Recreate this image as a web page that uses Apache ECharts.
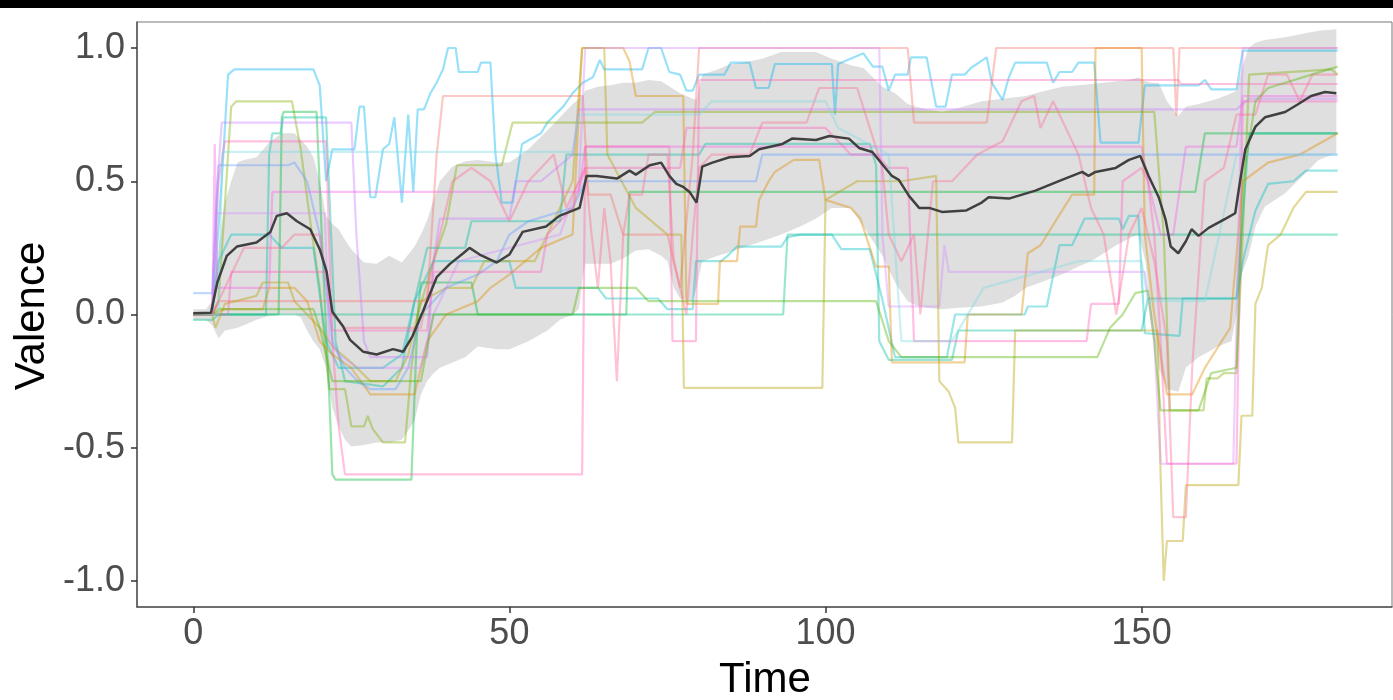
<!DOCTYPE html>
<html>
<head>
<meta charset="UTF-8">
<title>Valence over time</title>
<script src="https://cdn.jsdelivr.net/npm/echarts@6/dist/echarts.min.js"></script>
<style>
  html, body { margin: 0; padding: 0; background: #fff; }
</style>
</head>
<body>
<div id="main" style="width:1393px;height:700px;"></div>
<script>
// axis ticks
var xTicks = [0, 50, 100, 150];
var yTicks = [-1, -0.5, 0, 0.5, 1];

// mean valence (time, value)
var meanLine = [
  [0,0.005],[2.8,0.007],[3.8,0.12],[5.3,0.22],[6.9,0.255],[10,0.27],[12.2,0.31],[13.2,0.37],[14.8,0.38],
  [16.4,0.35],[18.5,0.32],[20,0.245],[21.1,0.16],[22,0.01],[23.7,-0.045],[24.8,-0.095],[26.9,-0.14],
  [29,-0.15],[31.6,-0.13],[33.2,-0.14],[34.7,-0.08],[36.3,0.01],[38.5,0.14],[40.6,0.19],[42.7,0.23],
  [43.7,0.25],[45.3,0.225],[48,0.195],[50,0.225],[52.1,0.31],[55.8,0.33],[57.9,0.37],[61.1,0.40],
  [62.2,0.52],[63.8,0.52],[67,0.51],[69,0.54],[70,0.525],[72.2,0.56],[74,0.57],[75.3,0.52],[76.4,0.49],
  [77.4,0.48],[78.5,0.46],[79.6,0.42],[80.5,0.555],[82.1,0.57],[84.8,0.59],[88,0.595],[89.5,0.62],
  [93.2,0.64],[94.7,0.66],[98.5,0.655],[100.6,0.67],[103.7,0.66],[105.3,0.625],[107.4,0.61],[110.5,0.52],
  [111.6,0.505],[113.2,0.445],[114.8,0.40],[116.4,0.40],[118.4,0.385],[122.2,0.39],[124.7,0.42],
  [125.8,0.44],[129,0.435],[133.2,0.465],[137.4,0.505],[140.6,0.535],[141.6,0.52],[142.7,0.535],
  [145.9,0.55],[148,0.58],[149.8,0.595],[151.1,0.52],[152.7,0.44],[153.8,0.355],[154.6,0.255],
  [155.8,0.23],[157,0.275],[157.9,0.32],[159,0.295],[160.6,0.325],[163.3,0.36],[164.8,0.38],
  [165.6,0.505],[166.4,0.62],[168,0.705],[169.5,0.74],[172.7,0.76],[174.8,0.79],[176.8,0.82],
  [179,0.835],[180.8,0.83]
];

// ribbon around the mean
var bandTime  = [0,2,3,4,5,6,7,8,10,12,14,16,17,18,19,20,21,22,23,24,25,27,29,31,33,35,36,37,38,39,41,43,45,48,50,53,56,58,60,61,61.6,62,64,66,68,70,72,74,75,76,77,78,79,79.6,80.5,83,85,88,90,93,96,98.5,101,104,106,109,111,113,114.3,116,118.4,121,124.7,128,130,131.7,134,137.4,140,142,144,146,148,149.5,150.6,151.5,152.7,154,155.8,157,159,160.6,162,164.2,165,165.8,166.9,168,169.5,172.7,175.9,178,180.8];
var bandUpper = [0.02,0.02,0.05,0.25,0.42,0.5,0.57,0.58,0.59,0.645,0.68,0.68,0.655,0.63,0.59,0.5,0.37,0.34,0.32,0.28,0.245,0.195,0.19,0.22,0.195,0.255,0.3,0.355,0.43,0.5,0.555,0.575,0.58,0.57,0.57,0.62,0.69,0.74,0.79,0.81,0.82,0.84,0.855,0.86,0.87,0.87,0.88,0.875,0.86,0.845,0.83,0.82,0.81,0.805,0.9,0.92,0.94,0.95,0.96,0.985,0.985,0.985,0.96,0.935,0.925,0.855,0.83,0.79,0.78,0.77,0.76,0.775,0.8,0.81,0.815,0.82,0.835,0.855,0.86,0.865,0.87,0.875,0.88,0.89,0.875,0.87,0.87,0.8,0.745,0.78,0.79,0.8,0.81,0.83,0.84,0.92,1.0,1.02,1.03,1.04,1.055,1.065,1.07];
var bandLower = [-0.02,-0.02,-0.04,-0.09,-0.06,-0.055,-0.05,-0.04,-0.02,-0.005,0.0,0.0,-0.01,-0.06,-0.1,-0.13,-0.2,-0.35,-0.42,-0.47,-0.495,-0.49,-0.48,-0.48,-0.47,-0.4,-0.3,-0.25,-0.22,-0.2,-0.18,-0.16,-0.12,-0.13,-0.13,-0.1,-0.06,-0.02,0.0,0.02,0.14,0.19,0.19,0.19,0.21,0.24,0.245,0.22,0.2,0.1,0.06,0.055,0.05,0.1,0.2,0.22,0.235,0.26,0.275,0.3,0.33,0.36,0.4,0.4,0.33,0.22,0.12,0.05,0.035,0.025,0.02,0.025,0.03,0.045,0.07,0.1,0.12,0.15,0.18,0.2,0.23,0.26,0.285,0.3,0.2,0.0,-0.2,-0.28,-0.29,-0.2,-0.16,-0.14,-0.12,-0.1,0.0,0.15,0.22,0.33,0.405,0.455,0.53,0.58,0.605];

// individual participants (time, value)
var p01 = [[0,0],[3,0],[4.5,0.5],[5.5,0.9],[6.5,0.92],[19,0.92],[20,0.86],[21,0.5],[22,0.62],[25.5,0.62],[26.3,0.78],[27,0.78],[28,0.44],[28.8,0.44],[30,0.62],[31,0.64],[31.8,0.74],[33,0.42],[34,0.75],[34.8,0.46],[35.5,0.77],[36.5,0.77],[37.5,0.83],[38.5,0.87],[39.5,0.92],[40.3,1.0],[41.5,1.0],[42,0.91],[45,0.91],[45.5,0.945],[47,0.945],[47.8,0.6],[48.8,0.42],[50.5,0.42],[52,0.64],[55,0.68],[56,0.72],[58.5,0.78],[60,0.83],[61.6,0.87],[63.2,0.89],[64.3,0.955],[65,0.92],[71,0.92],[72,1.0],[74,1.0],[75.3,0.91],[77,0.9],[78,0.84],[79,0.84],[80,0.9],[84,0.9],[85,0.945],[88,0.945],[89,0.85],[91,0.85],[92,0.94],[101,0.94],[101.5,0.75],[102,0.94],[106,0.98],[107.5,0.93],[109,0.93],[110,0.84],[111,0.9],[113,0.9],[113.5,0.965],[116,0.965],[117.5,0.78],[119,0.78],[120,0.9],[122,0.9],[123,0.925],[125.5,0.965],[126.3,0.87],[128,0.805],[129,0.89],[130,0.945],[135,0.945],[136,0.87],[137,0.91],[139,0.91],[140,0.945],[142.5,0.945],[143.5,0.645],[149.5,0.645],[150.5,0.86],[159,0.86],[160,0.88],[161,0.845],[165,0.845],[166,0.99],[181,0.99]];
var p02 = [[0,0],[3,0],[4,0.05],[6,0.78],[6.8,0.8],[15.6,0.8],[17,0.62],[18.5,0.35],[20,0.1],[21.5,-0.28],[24,-0.28],[25,-0.42],[27,-0.42],[27.6,-0.38],[28.4,-0.43],[30,-0.48],[33.5,-0.48],[34.5,-0.2],[35.5,0.0],[38,0.2],[40,0.34],[41.7,0.56],[48.8,0.56],[50.5,0.72],[71,0.72],[73,0.76],[152,0.76],[153.5,0.3],[154.5,-0.36],[159.8,-0.36],[160.3,-0.24],[162,-0.24],[163,-0.22],[165,-0.22],[166,0.3],[167,0.9],[180,0.92],[181,0.9]];
var p03 = [[0,0],[13.5,0],[14,0.74],[14.3,0.76],[19.5,0.76],[20.5,0.2],[21.5,-0.3],[22,-0.6],[22.5,-0.62],[34.5,-0.62],[35,-0.3],[35.5,0.0],[36,0.12],[44,0.12],[45,0.0],[68.5,0.0],[69,0.46],[158.5,0.46],[160,0.68],[181,0.68]];
var p04 = [[0,-0.02],[3,-0.02],[4,0],[93.3,0],[94,0.3],[181,0.3]];
var p05 = [[0,0],[11.5,0],[12,0.6],[12.5,0.68],[13.8,0.68],[14.2,0.74],[21,0.74],[21.8,0.3],[22.5,-0.1],[24,-0.25],[30,-0.27],[33,-0.2],[35,0.05],[37,0.25],[43,0.25],[44,0.35],[58,0.35],[59,0.6],[80,0.6],[81,0.64],[107,0.64],[108,0.56],[108.5,-0.1],[110,-0.17],[120,-0.17],[121,-0.06],[150,-0.06],[151,0.06],[165,0.06],[167,0.68],[181,0.68]];
var p06 = [[0,0],[3,0],[4,0.2],[6,0.3],[12,0.3],[14,0.25],[19,0.25],[21,-0.1],[23,-0.2],[30,-0.2],[33,-0.15],[35,0.05],[38,0.2],[50,0.2],[51,0.1],[64,0.1],[65.3,0.06],[73.5,0.06],[75,0.02],[79,0.02],[79.5,0.2],[83.5,0.2],[84.5,0.22],[86,0.255],[93,0.255],[94,0.29],[96,0.3],[101,0.3],[102.5,0.245],[107,0.245],[109,0.055],[111,-0.16],[119.2,-0.16],[120.5,0.0],[131.5,0.0],[132,0.03],[135,0.03],[137,0.26],[139,0.26],[141,0.36],[146.4,0.36],[147,0.32],[148,0.37],[149.5,0.37],[150.5,-0.07],[156,-0.08],[156.5,0.06],[165,0.06],[166,0.2],[168,0.39],[170,0.49],[174,0.5],[176,0.54],[181,0.54]];
var p07 = [[0,0],[3,0],[4,0.5],[5,0.65],[21,0.65],[22,-0.1],[23,-0.42],[24,-0.6],[61.5,-0.6],[62,0.63],[75.3,0.63],[75.8,-0.1],[79.5,-0.1],[80,0.88],[155.8,0.88],[156.2,0.865],[181,0.865]];
var p08 = [[0,0],[3,0],[3.4,0.64],[3.8,0.1],[12,0.1],[12.5,0.46],[61,0.46],[62,0.63],[150,0.63],[151,0.5],[153,0.3],[155,0.3],[157,0.63],[165,0.63],[166,0.82],[181,0.82]];
var p09 = [[0,0],[3,0],[4,0.05],[37,0.05],[38.5,0.6],[39.5,0.82],[61.6,0.82],[62.5,0.45],[66,0.45],[68,0.3],[75,0.3],[77,0.1],[79,0.6],[80,1.0],[113,1.0],[114,0.72],[125.5,0.72],[127,1.0],[155,1.0],[155.5,0.745],[156,1.0],[181,1.0]];
var p10 = [[0,0],[3,0],[5,0.02],[11,0.02],[12,0.1],[16,0.1],[18,0.05],[20,-0.1],[22,-0.15],[25,-0.2],[28,-0.3],[35,-0.3],[37,-0.1],[40,0.0],[45,0.05],[47,0.1],[50,0.15],[55,0.25],[60,0.3],[61.5,1.0],[68,1.0],[69,0.95],[70,0.82],[77.5,0.82],[78,0.04],[83,0.04],[83.3,0.2],[86,0.2],[86.5,0.33],[89,0.33],[89.5,0.43],[91,0.5],[92,0.535],[95,0.58],[99,0.58],[100,0.43],[104,0.4],[105.5,0.36],[108,0.18],[110,0.18],[110.5,-0.18],[122,-0.18],[122.5,0.0],[131,0.0],[132,0.23],[134,0.26],[139,0.45],[142.5,0.45],[142.7,1.0],[150,1.0],[150.5,0.3],[152,0.0],[154,-0.3],[158,-0.3],[160,-0.2],[164,-0.05],[166,0.5],[170,0.57],[175,0.6],[178,0.64],[181,0.68]];
var p11 = [[0,0],[3,0],[3.5,-0.05],[5,0.04],[10,0.07],[11,0.12],[15,0.12],[16,0.05],[18,0.0],[20,-0.05],[22,-0.12],[25,-0.18],[28,-0.25],[32,-0.25],[34,-0.15],[36,0.05],[40,0.1],[44,0.1],[46,0.2],[54,0.2],[56,0.3],[60,0.5],[61.5,1.0],[65,1.0],[65.5,0.6],[70,0.4],[75,0.3],[77.2,0.3],[77.6,-0.275],[99.5,-0.275],[100,0.43],[105,0.5],[112,0.5],[117.5,0.52],[118,-0.25],[119.5,-0.29],[120.5,-0.35],[121,-0.48],[129.5,-0.48],[130,-0.06],[152.5,-0.06],[153,-0.6],[153.5,-1.0],[154,-0.85],[156.5,-0.85],[157,-0.64],[165.3,-0.64],[165.8,-0.38],[167.5,-0.38],[168,0.04],[169,0.1],[170,0.26],[172,0.3],[174,0.4],[176,0.46],[181,0.46]];
var p12 = [[0,0.08],[3,0.08],[3.5,0.3],[4,0.56],[15,0.56],[16,0.57],[18,0.5],[20,0.3],[22,-0.1],[24,-0.2],[26,-0.25],[28,-0.28],[32,-0.28],[34,-0.2],[36,0.0],[40,0.1],[45,0.15],[48,0.2],[50,0.3],[53,0.35],[60,0.4],[62,0.5],[89,0.5],[90,0.6],[165,0.6],[166,0.6],[181,0.6]];
var p13 = [[0,0],[3,0],[3.5,0.38],[4.5,0.72],[25,0.72],[25.8,0.3],[27,-0.1],[28,-0.16],[37,-0.16],[38,0.2],[39,0.36],[50,0.36],[51,0.5],[55,0.5],[60,0.6],[61,0.77],[165,0.77],[167,0.81],[181,0.81]];
var p14 = [[0,0],[3,0],[3.6,0.38],[20.8,0.38],[21.5,-0.1],[23,-0.15],[26,-0.2],[36,-0.2],[38,0.0],[42,0.2],[58,0.3],[61,0.5],[62,1.0],[108.5,1.0],[109,0.3],[110,0.03],[118,0.03],[118.8,0.26],[119.5,0.16],[150.5,0.16],[152,-0.1],[153,-0.56],[164.5,-0.56],[165.5,0.5],[166,1.0],[181,1.0]];
var p15 = [[0,0],[3,0],[5,0.1],[8,0.25],[14,0.25],[16,0.3],[20,0.3],[22,0.0],[24,-0.05],[36,-0.05],[38,0.2],[41,0.5],[44,0.55],[47,0.5],[50,0.35],[53,0.5],[57,0.6],[59,0.4],[61,0.5],[62,0.55],[63,0.3],[64,0.1],[65,0.4],[66,0.2],[67,-0.25],[68,0.3],[69,0.45],[71,0.45],[72,0.6],[75,0.6],[76,0.2],[78,0.0],[79,0.3],[80,0.55],[82,0.6],[88,0.6],[90,0.72],[97,0.72],[99,0.85],[105,0.85],[107,0.7],[109,0.55],[110,0.3],[112,0.2],[114,0.3],[115,0.0],[117,0.5],[120,0.5],[122,0.55],[124,0.6],[128,0.65],[131,0.8],[133,0.82],[134,0.7],[136,0.8],[140,0.6],[142,0.4],[144,0.3],[146,0.0],[148,0.3],[150,0.4],[152,0.2],[154,-0.1],[155,-0.76],[157,-0.76],[158,-0.2],[160,0.5],[163,0.55],[165,0.75],[168,0.75],[170,0.9],[173,0.9],[175,0.8],[177,0.9],[181,0.9]];
var p16 = [[0,0],[5.5,0],[6,0.16],[21,0.16],[22,-0.06],[37,-0.06],[38,0.16],[55,0.16],[56,0.3],[60,0.4],[62,0.55],[77,0.55],[78,0.7],[100,0.7],[104,0.6],[108,0.6],[110,0.55],[113,0.55],[114,-0.1],[141.3,-0.1],[142,0.04],[146.4,0.04],[147,0.5],[150,0.55],[151,0.5],[152,0.3],[153,-0.1],[154,-0.56],[165,-0.56],[166,0.8],[181,0.8]];
var p17 = [[0,0],[3,0],[4,0.02],[19,0.02],[20,-0.05],[22,-0.25],[36,-0.25],[38,0.0],[60,0.0],[61,0.1],[70,0.1],[72,0.05],[108,0.05],[110,-0.1],[112,-0.16],[143,-0.16],[145,-0.05],[147,0.0],[149,0.08],[151,0.09],[152,-0.1],[153,-0.36],[159,-0.36],[161,-0.22],[165,-0.2],[166,0.5],[168,0.8],[170,0.85],[181,0.93]];
var p18 = [[0,0],[4,0],[4.6,0.61],[60,0.61],[61,0.75],[80,0.75],[82,0.8],[100,0.8],[102,0.7],[110,0.6],[112,-0.1],[120,-0.1],[125,0.1],[140,0.2],[150,0.2],[151,0.05],[160,0.05],[165,0.6],[181,0.6]];

var people = [p01, p02, p03, p04, p05, p06, p07, p08, p09, p10, p11, p12, p13, p14, p15, p16, p17, p18];
var colours = ['#00B4F0', '#7CAE00', '#00BA38', '#00C08B', '#00BFA0', '#00BFC4', '#FF64B0', '#F564E3', '#F8766D',
               '#DE8C00', '#B79F00', '#619CFF', '#C77CFF', '#D48CFF', '#FF6C91', '#FF62BC', '#53B400', '#7ED9E0'];

var chart = echarts.init(document.getElementById('main'));

var series = [];
for (var i = 0; i < people.length; i++) {
  series.push({
    type: 'line',
    data: people[i],
    symbol: 'none',
    silent: true,
    lineStyle: { color: colours[i], width: 2.2, opacity: 0.4 }
  });
}

// grey ribbon, drawn through the axes
series.push({
  type: 'custom',
  silent: true,
  data: [[0, 0]],
  renderItem: function (params, api) {
    var pts = [];
    for (var k = 0; k < bandTime.length; k++) pts.push(api.coord([bandTime[k], bandUpper[k]]));
    for (var k = bandTime.length - 1; k >= 0; k--) pts.push(api.coord([bandTime[k], bandLower[k]]));
    return { type: 'polygon', shape: { points: pts }, style: { fill: 'rgba(150,150,150,0.3)' } };
  }
});

series.push({
  type: 'line',
  data: meanLine,
  symbol: 'none',
  silent: true,
  lineStyle: { color: '#404040', width: 2.5 }
});

var labelStyle = { fontSize: 36, color: '#4D4D4D', fontFamily: 'Liberation Sans' };

var option = {
  animation: false,
  backgroundColor: '#fff',
  grid: { left: 137, right: 1, top: 22, bottom: 93, show: true, borderColor: '#777', borderWidth: 1 },
  xAxis: {
    type: 'value', min: -8.9, max: 189.6,
    splitLine: { show: false },
    axisLine: { onZero: false, lineStyle: { color: '#555', width: 1.5 } },
    axisTick: { customValues: xTicks, length: 6, lineStyle: { color: '#333', width: 1.5 } },
    axisLabel: Object.assign({ customValues: xTicks, margin: 9 }, labelStyle)
  },
  yAxis: {
    type: 'value', min: -1.0976, max: 1.0976,
    splitLine: { show: false },
    axisLine: { show: true, onZero: false, lineStyle: { color: '#555', width: 1.5 } },
    axisTick: { show: true, customValues: yTicks, length: 6, lineStyle: { color: '#333', width: 1.5 } },
    axisLabel: Object.assign({ customValues: yTicks, margin: 12, formatter: function (v) { return v.toFixed(1); } }, labelStyle)
  },
  graphic: [
    { type: 'rect', left: 0, top: 0, shape: { width: 1393, height: 8 }, style: { fill: '#000' } },
    { type: 'text', x: 765, y: 680, style: { text: 'Time', fontSize: 42, fontFamily: 'Liberation Sans', fill: '#000', align: 'center', verticalAlign: 'middle' } },
    { type: 'text', x: 32, y: 316, rotation: Math.PI / 2, style: { text: 'Valence', fontSize: 42, fontFamily: 'Liberation Sans', fill: '#000', align: 'center', verticalAlign: 'middle' } }
  ],
  series: series
};

chart.setOption(option);
</script>
</body>
</html>
